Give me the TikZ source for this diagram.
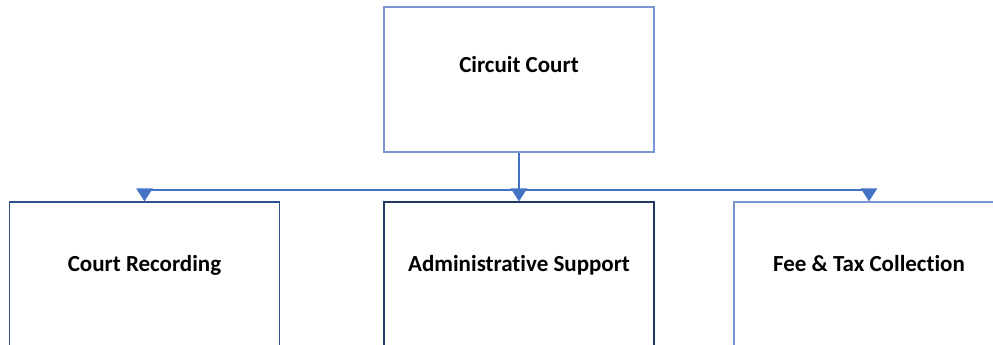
\documentclass[tikz,border=0pt]{standalone}
\usepackage{fontspec}
\setmainfont{Carlito}[Ligatures=NoCommon]
\usepackage{tikz}
\usetikzlibrary{arrows.meta, positioning}
\definecolor{myblue}{RGB}{68,114,196}
\definecolor{mylight}{RGB}{120,150,210}
\definecolor{mydark}{RGB}{47,82,143}
\definecolor{mynavy}{RGB}{32,56,100}
\tikzset{
  orgbox/.style={rectangle, minimum width=270pt, minimum height=200pt,
    line width=1.2pt, fill=white},
  topbox/.style={orgbox, draw=mylight, minimum height=145pt},
  boxlabel/.style={font=\fontsize{23}{27}\selectfont\bfseries, text=black, anchor=base},
  arrow/.style={-{Triangle[width=16pt,length=13pt]}, line width=2.6pt, color=myblue}
}
\begin{document}
\begin{tikzpicture}[x=1pt, y=-1pt]
  \useasboundingbox (0,0) rectangle (993,345);
  \clip (0,0) rectangle (993,345);

  % Top level
  \node[topbox] (court) at (519,79.5) {};
  \node[boxlabel] (courtlabel) at (519,72) {Circuit Court};

  % Offices
  \node[orgbox, draw=mydark] (rec) at (144.5,302) {};
  \node[orgbox, draw=mynavy] (admin) at (519,302) {};
  \node[orgbox, draw=mylight] (fee) at (869,302) {};
  \node[boxlabel] (reclabel) at (144.5,271) {Court Recording};
  \node[boxlabel] (adminlabel) at (519,271) {Administrative Support};
  \node[boxlabel] (feelabel) at (869,271) {Fee \& Tax Collection};

  % Connectors
  \coordinate (bus) at (519,190);
  \draw[arrow] (court.south) -- (admin.north);
  \draw[arrow] (bus) -| (rec.north);
  \draw[arrow] (bus) -| (fee.north);
\end{tikzpicture}
\end{document}
